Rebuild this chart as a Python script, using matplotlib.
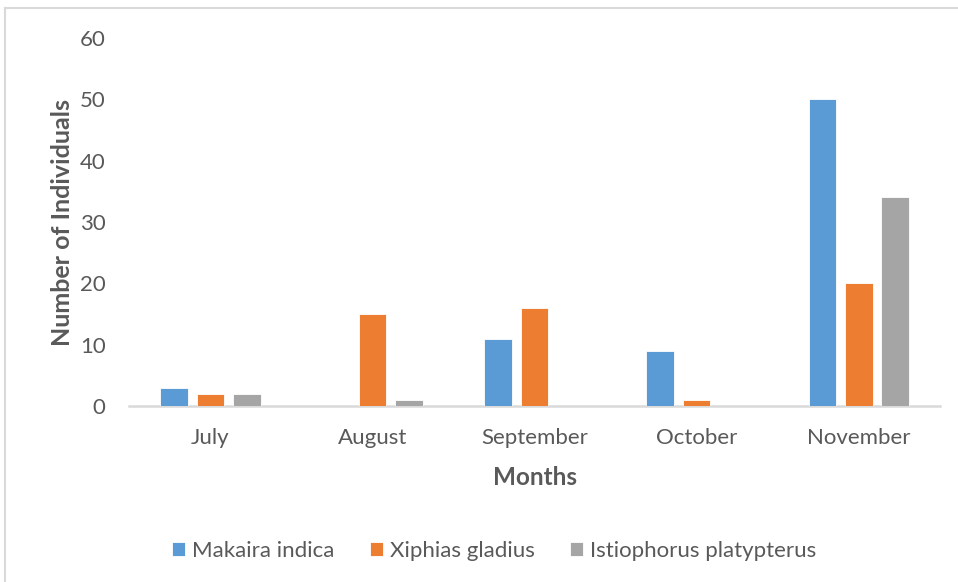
import numpy as np
import matplotlib.pyplot as plt
from matplotlib.lines import Line2D

plt.rcParams['font.family'] = ['Lato', 'DejaVu Sans']

# Data
months = ['July', 'August', 'September', 'October', 'November']
makaira = [3, 0, 11, 9, 50]
xiphias = [2, 15, 16, 1, 20]
istiophorus = [2, 1, 0, 0, 34]
series = ['Makaira indica', 'Xiphias gladius', 'Istiophorus platypterus']
colors = ['#5b9bd5', '#ed7d31', '#a5a5a5']

fig = plt.figure(figsize=(9.58, 5.82), dpi=100)
ax = fig.add_axes([0.135, 0.3024, 0.846, 0.6323])

x = np.arange(len(months))
w = 0.17
off = 0.225
for i, (vals, c, name) in enumerate(zip([makaira, xiphias, istiophorus], colors, series)):
    ax.bar(x + (i - 1) * off, vals, width=w, color=c, label=name, zorder=3,
           edgecolor='white', linewidth=0.6)

ax.set_xlim(-0.5, len(months) - 0.5)
ax.set_ylim(0, 60)
ax.set_yticks(range(0, 61, 10))
ax.set_xticks(x)
ax.set_xticklabels(months)

for s in ['top', 'right', 'left']:
    ax.spines[s].set_visible(False)
ax.spines['bottom'].set_color('#d9d9d9')
ax.spines['bottom'].set_linewidth(1.8)
ax.tick_params(axis='both', length=0, labelsize=16, colors='#595959')
ax.tick_params(axis='y', pad=17)
ax.tick_params(axis='x', pad=16)

ax.set_xlabel('Months', fontsize=17.5, fontweight='bold', color='#595959', labelpad=13)
ax.set_ylabel('Number of Individuals', fontsize=18, fontweight='bold', color='#595959', labelpad=4)

ax.legend(loc='center', bbox_to_anchor=(0.45, -0.393), ncol=3, frameon=False,
          fontsize=16, handlelength=0.6, handleheight=0.6, handletextpad=0.3,
          columnspacing=1.6, labelcolor='#595959')

# outer chart border
fig.add_artist(Line2D([5 / 958, 5 / 958], [0, 1 - 8 / 582], color='#d9d9d9', lw=1.5))
fig.add_artist(Line2D([5 / 958, 1], [1 - 8 / 582, 1 - 8 / 582], color='#d9d9d9', lw=1.5))

fig.savefig('out.png', dpi=100)
